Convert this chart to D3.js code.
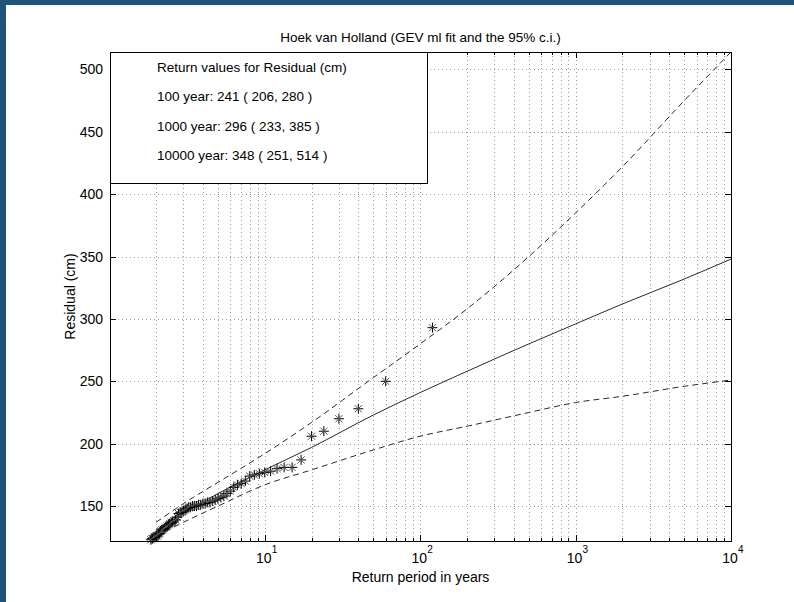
<!DOCTYPE html>
<html>
<head>
<meta charset="utf-8">
<title>Hoek van Holland GEV fit</title>
<style>
  body { margin: 0px; background: #1f5379; }
  #page { position: absolute; left: 6px; top: 5px; width: 788px; height: 597px; background: #fff; }
  svg { position: absolute; left: 0; top: 0; }
  text { font-family: "Liberation Sans", Arial, sans-serif; fill: #000; }
  .grid { stroke: #9a9a9a; stroke-width: 1; stroke-dasharray: 1,3; fill: none; }
</style>
</head>
<body>
<div id="page"></div>
<svg width="794" height="602"></svg>
<script src="https://d3js.org/d3.v7.min.js"></script>
<script>
// empirical return periods (years) and observed residuals (cm)
var returnPeriod = [120, 60, 40, 30, 24, 20, 17.14, 15, 13.33, 12, 10.91, 10, 9.23, 8.57, 8,
  7.5, 7.06, 6.67, 6.32, 6, 5.71, 5.45, 5.22, 5, 4.8, 4.62, 4.44, 4.29, 4.14, 4,
  3.87, 3.75, 3.64, 3.53, 3.43, 3.33, 3.24, 3.16, 3.08, 3, 2.93, 2.86, 2.79, 2.73, 2.67,
  2.61, 2.55, 2.5, 2.45, 2.4, 2.35, 2.31, 2.26, 2.22, 2.18, 2.14, 2.11, 2.07, 2.03, 2,
  1.97, 1.94, 1.9, 1.88, 1.85];
var residual = [293, 250, 228, 220, 210, 206, 187, 181, 181, 180, 178, 177, 176, 175, 174,
  170, 168, 167, 165, 162, 160, 158, 157, 156, 155, 154, 153, 153, 152, 152,
  151, 151, 150, 150, 150, 149, 149, 148, 147, 146, 145, 145, 144, 141, 139,
  138, 137, 137, 136, 135, 134, 133, 132, 131, 131, 130, 128, 127, 126, 126,
  125, 125, 124, 124, 123];

// fitted GEV return level and 95% confidence bounds
var curveT = [2, 3, 5, 10, 20, 50, 100, 200, 500, 1000, 2000, 5000, 10000];
var fitLevel = [131, 144, 160, 179, 197, 223, 241, 258, 280, 296, 312, 332, 348];
var upperCI = [137, 152, 169, 192, 217, 253, 280, 308, 350, 385, 422, 475, 514];
var lowerCI = [126, 137, 150, 167, 179, 195, 206, 214, 225, 233, 238, 246, 251];

var xTicks = [10, 100, 1000, 10000];
var yTicks = [150, 200, 250, 300, 350, 400, 450, 500];
var legendLines = [
  "Return values for Residual (cm)",
  "100 year: 241 ( 206, 280 )",
  "1000 year: 296 ( 233, 385 )",
  "10000 year: 348 ( 251, 514 )"
];

function draw() {
  var pL = 110, pR = 731, pT = 52, pB = 541;
  var svg = d3.select("svg");

  var x = d3.scaleLog().domain([1.01, 10000]).range([pL, pR]);
  var y = d3.scaleLinear().domain([122, 514]).range([pB, pT]);

  // minor positions on log axis
  var minor = [];
  [1, 10, 100, 1000].forEach(function(d) {
    for (var k = 1; k <= 9; k++) {
      var v = d * k;
      if (v > x.domain()[0] && v <= x.domain()[1]) minor.push(v);
    }
  });
  minor.push(10000);

  // grid
  svg.append("g").selectAll("line").data(minor.filter(function(d) { return d < 10000; })).enter().append("line")
    .attr("class", "grid")
    .attr("x1", function(d) { return Math.round(x(d)) + 0.5; })
    .attr("x2", function(d) { return Math.round(x(d)) + 0.5; })
    .attr("y1", pT).attr("y2", pB);
  svg.append("g").selectAll("line").data(yTicks).enter().append("line")
    .attr("class", "grid")
    .attr("y1", function(d) { return Math.round(y(d)) + 0.5; })
    .attr("y2", function(d) { return Math.round(y(d)) + 0.5; })
    .attr("x1", pL).attr("x2", pR);

  // curves
  var line = d3.line()
    .x(function(d) { return x(d[0]); })
    .y(function(d) { return y(d[1]); })
    .curve(d3.curveMonotoneX);

  function series(vals) { return curveT.map(function(t, i) { return [t, vals[i]]; }); }

  svg.append("path").attr("d", line(series(fitLevel)))
    .attr("fill", "none").attr("stroke", "#2a2a2a").attr("stroke-width", 1);
  svg.append("path").attr("d", line(series(upperCI)))
    .attr("fill", "none").attr("stroke", "#2a2a2a").attr("stroke-width", 1)
    .attr("stroke-dasharray", "6,4");
  svg.append("path").attr("d", line(series(lowerCI)))
    .attr("fill", "none").attr("stroke", "#2a2a2a").attr("stroke-width", 1)
    .attr("stroke-dasharray", "6,4");

  // asterisk markers
  var s = 5, d2 = 3.6;
  var stars = svg.append("g").selectAll("g")
    .data(returnPeriod.map(function(t, i) { return [t, residual[i]]; }))
    .enter().append("g")
    .attr("transform", function(d) { return "translate(" + x(d[0]) + "," + y(d[1]) + ")"; })
    .attr("stroke-width", 1);
  stars.append("path").attr("stroke", "#000")
    .attr("d", "M" + (-s) + ",0H" + s + "M0," + (-s) + "V" + s);
  stars.append("path").attr("stroke", "#555")
    .attr("d", "M" + (-d2) + "," + (-d2) + "L" + d2 + "," + d2 +
      "M" + (-d2) + "," + d2 + "L" + d2 + "," + (-d2));

  // ticks (inward, on all four sides)
  var ticks = svg.append("g").attr("stroke", "#000").attr("stroke-width", 1);
  minor.forEach(function(d) {
    var major = xTicks.indexOf(d) >= 0;
    var len = major ? 6 : 3;
    var px = Math.round(x(d)) + 0.5;
    ticks.append("line").attr("x1", px).attr("x2", px).attr("y1", pB).attr("y2", pB - len);
    ticks.append("line").attr("x1", px).attr("x2", px).attr("y1", pT).attr("y2", pT + len);
  });
  yTicks.forEach(function(d) {
    var py = Math.round(y(d)) + 0.5;
    ticks.append("line").attr("x1", pL).attr("x2", pL + 6).attr("y1", py).attr("y2", py);
    ticks.append("line").attr("x1", pR).attr("x2", pR - 6).attr("y1", py).attr("y2", py);
  });

  // frame
  svg.append("rect").attr("x", pL + 0.5).attr("y", pT + 0.5)
    .attr("width", pR - pL).attr("height", pB - pT)
    .attr("fill", "none").attr("stroke", "#000");

  // tick labels
  yTicks.forEach(function(d) {
    svg.append("text").attr("x", pL - 7).attr("y", y(d) + 5)
      .attr("text-anchor", "end").attr("font-size", "14px").text(d);
  });
  xTicks.forEach(function(d) {
    var px = x(d);
    svg.append("text").attr("x", px - 1).attr("y", 563)
      .attr("text-anchor", "middle").attr("font-size", "14px").text("10");
    svg.append("text").attr("x", px + 7).attr("y", 553)
      .attr("font-size", "10px").text(Math.round(Math.log10(d)));
  });

  // titles
  svg.append("text").attr("x", (pL + pR) / 2).attr("y", 42)
    .attr("text-anchor", "middle").attr("font-size", "13.5px")
    .text("Hoek van Holland (GEV ml fit and the 95% c.i.)");
  svg.append("text").attr("x", (pL + pR) / 2).attr("y", 582)
    .attr("text-anchor", "middle").attr("font-size", "14px")
    .text("Return period in years");
  svg.append("text").attr("transform", "translate(75," + ((pT + pB) / 2) + ") rotate(-90)")
    .attr("text-anchor", "middle").attr("font-size", "14px")
    .text("Residual (cm)");

  // return value box
  svg.append("rect").attr("x", pL + 0.5).attr("y", pT + 0.5)
    .attr("width", 317).attr("height", 131)
    .attr("fill", "#fff").attr("stroke", "#000");
  legendLines.forEach(function(t, i) {
    svg.append("text").attr("x", 157).attr("y", 72 + i * 29.3)
      .attr("font-size", "13.5px").text(t);
  });
}

draw();
</script>
</body>
</html>
